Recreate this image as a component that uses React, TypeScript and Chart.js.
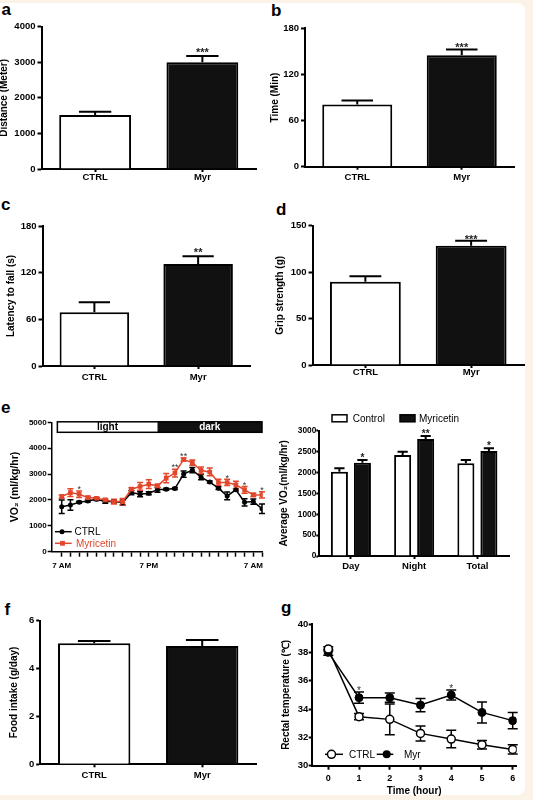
import React, { useEffect, useRef } from "react";
import { Chart, registerables } from "chart.js";

Chart.register(...registerables);

const FONT = "'Liberation Sans', Arial, Helvetica, sans-serif";
Chart.defaults.font.family = FONT;
Chart.defaults.color = "#000";

// ---------------- data ----------------
const BAR_GROUPS = ["CTRL", "Myr"];

const DISTANCE_MEAN = [1520, 3000];
const DISTANCE_SEM = [90, 175];
const DISTANCE_SIG = ["", "***"];
const DISTANCE_TICKS = [0, 1000, 2000, 3000, 4000];

const TIME_MEAN = [81, 145];
const TIME_SEM = [5, 7.5];
const TIME_SIG = ["", "***"];
const TIME_TICKS = [0, 60, 120, 180];

const LATENCY_MEAN = [69, 131];
const LATENCY_SEM = [13, 10];
const LATENCY_SIG = ["", "**"];
const LATENCY_TICKS = [0, 60, 120, 180];

const GRIP_MEAN = [89.7, 128.4];
const GRIP_SEM = [6, 5.5];
const GRIP_SIG = ["", "***"];
const GRIP_TICKS = [0, 50, 100, 150];

const FOOD_MEAN = [5.06, 4.94];
const FOOD_SEM = [0.09, 0.25];
const FOOD_SIG = ["", ""];
const FOOD_TICKS = [0, 2, 4, 6];

const VO2_SLOTS = [0, 1, 2, 3, 4, 5, 6, 7, 8, 9, 10, 11, 12, 13, 14, 15, 16, 17, 18, 19, 20, 21, 22, 23];
const VO2_TICK_LABELS = ["7 AM", "", "", "", "", "", "", "", "", "", "7 PM", "", "", "", "", "", "", "", "", "", "", "", "7 AM", ""];
const VO2_CTRL = [1740, 1805, 1910, 1960, 2025, 1935, 1935, 1900, 2285, 2220, 2260, 2390, 2415, 2440, 3000, 3150, 2880, 2690, 2455, 2155, 2390, 1910, 1935, 1660];
const VO2_CTRL_SEM = [260, 200, 40, 40, 50, 60, 60, 100, 80, 100, 60, 90, 40, 40, 120, 100, 100, 40, 50, 150, 40, 140, 100, 180];
const VO2_MYR = [2130, 2285, 2220, 2090, 2065, 2000, 1935, 1935, 2415, 2520, 2610, 2545, 2845, 3040, 3560, 3445, 3140, 3080, 2675, 2675, 2585, 2390, 2195, 2195];
const VO2_MYR_SEM = [60, 150, 130, 50, 40, 50, 90, 120, 60, 150, 170, 60, 180, 150, 60, 100, 130, 150, 120, 120, 140, 130, 60, 120];
const VO2_SIG = ["", "", "*", "", "", "", "", "", "", "", "", "", "", "**", "**", "", "", "", "", "*", "", "*", "", "*"];
const VO2_TICKS = [0, 1000, 2000, 3000, 4000, 5000];
const PHASES = ["light", "dark"];
const PHASE_BOUNDS = [-0.5, 11, 23];

const AVG_GROUPS = ["Day", "Night", "Total"];
const AVG_CTRL = [2019, 2418, 2219];
const AVG_CTRL_SEM = [80, 80, 79];
const AVG_MYR = [2235, 2801, 2514];
const AVG_MYR_SEM = [63, 72, 64];
const AVG_SIG = ["*", "**", "*"];
const AVG_TICKS = [0, 500, 1000, 1500, 2000, 2500, 3000];

const TEMP_HOURS = [0, 1, 2, 3, 4, 5, 6];
const TEMP_CTRL = [38.24, 33.46, 33.27, 32.28, 31.88, 31.48, 31.15];
const TEMP_CTRL_SEM = [0.15, 0.22, 1.08, 0.53, 0.62, 0.3, 0.33];
const TEMP_MYR = [38.0, 34.8, 34.8, 34.28, 34.99, 33.76, 33.18];
const TEMP_MYR_SEM = [0.2, 0.4, 0.33, 0.47, 0.35, 0.74, 0.58];
const TEMP_SIG = ["", "*", "", "", "*", "", ""];
const TEMP_TICKS = [30, 32, 34, 36, 38, 40];

const RED = "#e2472c";
const INK = "#111";

// ---------------- plugins ----------------
function valOf(raw: any) {
  return typeof raw === "number" ? raw : raw.y;
}

const errorBarPlugin = {
  id: "errorBars",
  beforeDatasetsDraw(chart: any) {
    const { ctx } = chart;
    chart.data.datasets.forEach((ds: any, di: number) => {
      if (!ds.errors) return;
      const meta = chart.getDatasetMeta(di);
      const yScale = chart.scales[meta.yAxisID];
      ctx.save();
      ctx.strokeStyle = ds.errorColor || "#000";
      ctx.lineWidth = ds.errorLineWidth || 2;
      meta.data.forEach((el: any, i: number) => {
        const v = valOf(ds.data[i]);
        const e = ds.errors[i];
        const x = el.x;
        const yHi = yScale.getPixelForValue(v + e);
        const yLo = yScale.getPixelForValue(ds.errorBoth ? v - e : v);
        const half = ds.errorCap != null ? ds.errorCap / 2 : (el.width * ds.errorCapRatio) / 2;
        ctx.beginPath();
        ctx.moveTo(x, yLo);
        ctx.lineTo(x, yHi);
        ctx.moveTo(x - half, yHi);
        ctx.lineTo(x + half, yHi);
        if (ds.errorBoth) {
          ctx.moveTo(x - half, yLo);
          ctx.lineTo(x + half, yLo);
        }
        ctx.stroke();
      });
      ctx.restore();
    });
  },
};

const sigPlugin = {
  id: "sigMarks",
  afterDatasetsDraw(chart: any) {
    const { ctx } = chart;
    chart.data.datasets.forEach((ds: any, di: number) => {
      if (!ds.sigLabels) return;
      const meta = chart.getDatasetMeta(di);
      const yScale = chart.scales[meta.yAxisID];
      ctx.save();
      ctx.font = `${ds.sigWeight || "bold"} ${ds.sigSize || 11}px ${FONT}`;
      ctx.fillStyle = ds.sigColor || "#222";
      ctx.textAlign = "center";
      ctx.textBaseline = "alphabetic";
      ds.sigLabels.forEach((t: string, i: number) => {
        if (!t) return;
        const v = valOf(ds.data[i]);
        const e = ds.errors ? ds.errors[i] : 0;
        const y = yScale.getPixelForValue(v + e) - (ds.sigGap || 0);
        ctx.fillText(t, meta.data[i].x, y);
      });
      ctx.restore();
    });
  },
};

function phasePlugin(names: string[], bounds: number[], fills: string[], inks: string[]) {
  return {
    id: "phaseBar",
    afterDraw(chart: any) {
      const { ctx, chartArea, scales } = chart;
      const top = chartArea.top - 0.5;
      const h = 10.5;
      ctx.save();
      const xs = bounds.map((b) => scales.x.getPixelForValue(b));
      names.forEach((n, i) => {
        ctx.fillStyle = fills[i];
        ctx.fillRect(xs[i], top, xs[i + 1] - xs[i], h);
      });
      ctx.strokeStyle = "#000";
      ctx.lineWidth = 1.5;
      ctx.strokeRect(xs[0], top, xs[xs.length - 1] - xs[0], h);
      ctx.font = `bold 10px ${FONT}`;
      ctx.textAlign = "center";
      ctx.textBaseline = "middle";
      names.forEach((n, i) => {
        ctx.fillStyle = inks[i];
        ctx.fillText(n, (xs[i] + xs[i + 1]) / 2, top + h / 2 + 0.5);
      });
      ctx.restore();
    },
  };
}

function legendPlugin(items: any[], origin: number[]) {
  return {
    id: "customLegend",
    afterDraw(chart: any) {
      const { ctx } = chart;
      const [ox, oy] = origin;
      ctx.save();
      items.forEach((it) => {
        const y = it.y - oy;
        if (it.kind === "line") {
          ctx.strokeStyle = it.color;
          ctx.lineWidth = it.lineWidth;
          ctx.beginPath();
          ctx.moveTo(it.x1 - ox, y);
          ctx.lineTo(it.x2 - ox, y);
          ctx.stroke();
          const mx = it.mx - ox;
          ctx.beginPath();
          if (it.shape === "rect") {
            ctx.rect(mx - it.r, y - it.r, it.r * 2, it.r * 2);
          } else {
            ctx.arc(mx, y, it.r, 0, Math.PI * 2);
          }
          ctx.fillStyle = it.fill;
          ctx.fill();
          if (it.stroke) {
            ctx.strokeStyle = it.stroke;
            ctx.lineWidth = 1.5;
            ctx.stroke();
          }
        } else {
          ctx.fillStyle = it.fill;
          ctx.fillRect(it.x1 - ox, it.y1 - oy, it.x2 - it.x1, it.y2 - it.y1);
          ctx.strokeStyle = "#000";
          ctx.lineWidth = 1.5;
          ctx.strokeRect(it.x1 - ox, it.y1 - oy, it.x2 - it.x1, it.y2 - it.y1);
        }
        ctx.fillStyle = it.textColor || "#000";
        ctx.font = `${it.fontSize || 10}px ${FONT}`;
        ctx.textAlign = "left";
        ctx.textBaseline = "middle";
        ctx.fillText(it.text, it.tx - ox, y + 0.5);
      });
      ctx.restore();
    },
  };
}

// ---------------- config builders ----------------
function yAxis(p: any) {
  const [bl] = p.box;
  const [al] = p.area;
  const ts = p.yTitleSize || 10;
  const aw = p.axisW || 2;
  return {
    type: "linear",
    min: p.yTicks[0],
    max: p.yTicks[p.yTicks.length - 1],
    afterBuildTicks: (s: any) => {
      s.ticks = p.yTicks.map((v: number) => ({ value: v }));
    },
    afterFit: (s: any) => {
      s.width = al - bl;
    },
    border: { display: true, color: "#000", width: aw },
    grid: { drawOnChartArea: false, drawTicks: true, tickLength: p.yTickLen ?? 4, tickWidth: aw, tickColor: "#000" },
    ticks: {
      color: "#000",
      font: { size: p.yTickSize || 9.5, weight: "bold" },
      padding: p.yTickPad ?? 2,
      autoSkip: false,
      callback: (v: any) => String(v),
    },
    title: {
      display: true,
      text: p.yTitle,
      color: "#000",
      font: { size: ts, weight: "bold" },
      padding: { top: p.titleX - bl - ts * 0.6, bottom: 0 },
    },
  };
}

function xCategory(p: any) {
  const [, bt, , bh] = p.box;
  const ab = p.area[3];
  const aw = p.axisW || 2;
  return {
    type: "category",
    offset: true,
    afterFit: (s: any) => {
      s.height = bt + bh - ab;
    },
    border: { display: true, color: "#000", width: aw },
    grid: { offset: false, drawOnChartArea: false, drawTicks: true, tickLength: p.xTickLen ?? 3, tickWidth: aw, tickColor: "#000" },
    ticks: { color: "#000", font: { size: p.xTickSize || 9.5, weight: "bold" }, padding: p.xTickPad ?? 1, autoSkip: false, maxRotation: 0 },
  };
}

function xLinear(p: any) {
  const [, bt, , bh] = p.box;
  const ab = p.area[3];
  const aw = p.axisW || 2;
  const sc: any = {
    type: "linear",
    min: p.xMin,
    max: p.xMax,
    afterBuildTicks: (s: any) => {
      s.ticks = p.xTicks.map((v: number) => ({ value: v }));
    },
    afterFit: (s: any) => {
      s.height = bt + bh - ab;
    },
    border: { display: true, color: "#000", width: aw },
    grid: { drawOnChartArea: false, drawTicks: true, tickLength: p.xTickLen ?? 4, tickWidth: aw, tickColor: "#000" },
    ticks: {
      color: "#000",
      font: { size: p.xTickSize || 9.5, weight: "bold" },
      padding: p.xTickPad ?? 2,
      autoSkip: false,
      maxRotation: 0,
      callback: p.xLabel,
    },
  };
  if (p.xTitle) {
    sc.title = { display: true, text: p.xTitle, color: "#000", font: { size: 10, weight: "bold" }, padding: { top: 0, bottom: p.xTitlePad ?? 2 } };
  }
  return sc;
}

function makeConfig(type: string, p: any) {
  const [bl, bt, bw] = p.box;
  const [, at, ar] = p.area;
  return {
    type,
    data: { labels: p.labels, datasets: p.datasets },
    options: {
      responsive: false,
      animation: false,
      events: [],
      layout: { padding: { left: 0, top: at - bt, right: bl + bw - ar, bottom: 0 } },
      plugins: { legend: { display: false }, tooltip: { enabled: false } },
      scales: { x: type === "bar" ? xCategory(p) : xLinear(p), y: yAxis(p) },
    },
    plugins: [errorBarPlugin, sigPlugin, ...(p.extra || [])],
  };
}

function simpleBar(p: any, mean: number[], sem: number[], sig: string[]) {
  return makeConfig("bar", {
    ...p,
    labels: BAR_GROUPS,
    datasets: [
      {
        data: mean,
        errors: sem,
        errorCapRatio: 0.45,
        errorLineWidth: 2,
        sigLabels: sig,
        sigSize: 11,
        sigGap: p.sigGap,
        backgroundColor: ["#fff", INK],
        borderColor: "#000",
        borderWidth: 2,
        barPercentage: 0.67,
        categoryPercentage: 1,
      },
    ],
  });
}

// ---------------- panels ----------------
const PANEL_A = { box: [-4, 16, 266, 176], area: [41.5, 26.7, 256, 169], titleX: 4.6, yTicks: DISTANCE_TICKS, yTitle: "Distance (Meter)", xTickLen: 3, xTickPad: 0, sigGap: -0.4 };
const PANEL_B = { box: [266, 16, 267, 176], area: [305, 28.3, 514, 166.7], titleX: 274.8, yTicks: TIME_TICKS, yTitle: "Time (Min)", xTickLen: 3, xTickPad: 1.8, sigGap: -1.1 };
const PANEL_C = { box: [-4, 212, 266, 176], area: [42.5, 226, 250, 366], titleX: 11.5, yTicks: LATENCY_TICKS, yTitle: "Latency to fall (s)", xTickLen: 3, xTickPad: 3, sigGap: 0.3 };
const PANEL_D = { box: [266, 212, 267, 176], area: [312.5, 225.7, 524, 365], titleX: 279.8, yTicks: GRIP_TICKS, yTitle: "Grip strength (g)", xTickLen: 3, xTickPad: -1.5, sigGap: -2.4 };
const PANEL_F = { box: [-4, 610, 266, 182], area: [40.2, 620.7, 256.2, 764.3], titleX: 14.5, yTicks: FOOD_TICKS, yTitle: "Food intake (g/day)", xTickLen: 3, xTickPad: 2.5, sigGap: 0 };

const PANEL_E1 = { box: [-4, 410, 272, 167], area: [51.7, 422.3, 262, 551.7] };
const PANEL_E2 = { box: [268, 405, 265, 177], area: [319.3, 430.7, 509, 556] };
const PANEL_G = { box: [268, 612, 265, 188], area: [311.7, 624, 516.7, 765.7] };

function configE1() {
  const p = PANEL_E1;
  return makeConfig("line", {
    ...p,
    titleX: 15,
    yTitle: "VO\u2082 (ml/kg/hr)",
    yTitleSize: 10.5,
    yTicks: VO2_TICKS,
    yTickSize: 8,
    yTickLen: 4,
    yTickPad: 1,
    axisW: 1.5,
    xMin: -1.15,
    xMax: 23,
    xTicks: VO2_SLOTS,
    xTickSize: 8,
    xTickLen: 5,
    xTickPad: 4,
    xLabel: (_v: any, i: number) => VO2_TICK_LABELS[i],
    datasets: [
      {
        label: "CTRL",
        data: VO2_CTRL.map((y, i) => ({ x: VO2_SLOTS[i], y })),
        errors: VO2_CTRL_SEM,
        errorBoth: true,
        errorCap: 6,
        errorLineWidth: 1.5,
        errorColor: "#000",
        borderColor: "#000",
        borderWidth: 1.5,
        pointRadius: 2.5,
        pointBackgroundColor: "#000",
        pointBorderWidth: 0,
        tension: 0,
        order: 1,
      },
      {
        label: "Myricetin",
        data: VO2_MYR.map((y, i) => ({ x: VO2_SLOTS[i], y })),
        errors: VO2_MYR_SEM,
        errorBoth: true,
        errorCap: 6,
        errorLineWidth: 1.5,
        errorColor: RED,
        borderColor: RED,
        borderWidth: 1.5,
        pointStyle: "rect",
        pointRadius: 3.3,
        pointBackgroundColor: RED,
        pointBorderWidth: 0,
        tension: 0,
        order: 0,
        sigLabels: VO2_SIG,
        sigSize: 9,
        sigWeight: "normal",
        sigGap: -1.2,
        sigColor: "#333",
      },
    ],
    extra: [
      phasePlugin(PHASES, PHASE_BOUNDS, ["#fff", INK], ["#000", "#fff"]),
      legendPlugin(
        [
          { kind: "line", x1: 55, x2: 71.7, y: 531.7, mx: 62, r: 2.5, fill: "#000", color: "#000", lineWidth: 1.5, text: "CTRL", tx: 74.5 },
          { kind: "line", x1: 55, x2: 71.7, y: 543.3, mx: 62.5, r: 2.4, shape: "rect", fill: RED, color: RED, lineWidth: 1.5, text: "Myricetin", tx: 76, textColor: RED },
        ],
        [p.box[0], p.box[1]]
      ),
    ],
  });
}

function configE2() {
  const p = PANEL_E2;
  return makeConfig("bar", {
    ...p,
    labels: AVG_GROUPS,
    titleX: 284,
    yTitle: "Average VO\u2082(ml/kg/hr)",
    yTicks: AVG_TICKS,
    yTickSize: 8.3,
    yTickLen: 3,
    yTickPad: 0,
    xTickLen: 3,
    xTickPad: 1.5,
    datasets: [
      {
        label: "Control",
        data: AVG_CTRL,
        errors: AVG_CTRL_SEM,
        errorCapRatio: 0.6,
        errorLineWidth: 2,
        backgroundColor: "#fff",
        borderColor: "#000",
        borderWidth: 2,
        barPercentage: 0.74,
        categoryPercentage: 0.728,
      },
      {
        label: "Myricetin",
        data: AVG_MYR,
        errors: AVG_MYR_SEM,
        errorCapRatio: 0.6,
        errorLineWidth: 2,
        backgroundColor: INK,
        borderColor: "#000",
        borderWidth: 2,
        barPercentage: 0.74,
        categoryPercentage: 0.728,
        sigLabels: AVG_SIG,
        sigSize: 10,
        sigGap: -0.8,
      },
    ],
    extra: [
      legendPlugin(
        [
          { kind: "box", x1: 332, x2: 347, y1: 414.8, y2: 421.8, y: 418.3, fill: "#fff", text: "Control", tx: 352.7 },
          { kind: "box", x1: 400, x2: 415, y1: 414.8, y2: 421.8, y: 418.3, fill: INK, text: "Myricetin", tx: 419 },
        ],
        [p.box[0], p.box[1]]
      ),
    ],
  });
}

function configG() {
  const p = PANEL_G;
  return makeConfig("line", {
    ...p,
    titleX: 286.5,
    yTitle: "Rectal temperature (\u2103)",
    yTicks: TEMP_TICKS,
    yTickLen: 3,
    yTickPad: 0.5,
    xMin: -0.54,
    xMax: 6.13,
    xTicks: TEMP_HOURS,
    xTickSize: 9,
    xTickLen: 4,
    xTickPad: 3,
    xLabel: (v: any) => String(v),
    xTitle: "Time (hour)",
    xTitlePad: 2.3,
    datasets: [
      {
        label: "CTRL",
        data: TEMP_CTRL.map((y, i) => ({ x: TEMP_HOURS[i], y })),
        errors: TEMP_CTRL_SEM,
        errorBoth: true,
        errorCap: 10,
        errorLineWidth: 1.5,
        borderColor: "#000",
        borderWidth: 1.5,
        pointRadius: 4,
        pointBackgroundColor: "#fff",
        pointBorderColor: "#000",
        pointBorderWidth: 1.5,
        tension: 0,
        order: 0,
      },
      {
        label: "Myr",
        data: TEMP_MYR.map((y, i) => ({ x: TEMP_HOURS[i], y })),
        errors: TEMP_MYR_SEM,
        errorBoth: true,
        errorCap: 10,
        errorLineWidth: 1.5,
        borderColor: "#000",
        borderWidth: 1.5,
        pointRadius: 4,
        pointBackgroundColor: "#000",
        pointBorderColor: "#000",
        pointBorderWidth: 1,
        tension: 0,
        order: 1,
        sigLabels: TEMP_SIG,
        sigSize: 10,
        sigWeight: "normal",
        sigGap: -1.6,
        sigColor: "#333",
      },
    ],
    extra: [
      legendPlugin(
        [
          { kind: "line", x1: 325, x2: 343, y: 754.3, mx: 331.5, r: 4, fill: "#fff", stroke: "#000", color: "#000", lineWidth: 1.5, text: "CTRL", tx: 349 },
          { kind: "line", x1: 376.7, x2: 393.3, y: 754.3, mx: 386.7, r: 4, fill: "#000", color: "#000", lineWidth: 1.5, text: "Myr", tx: 404 },
        ],
        [p.box[0], p.box[1]]
      ),
    ],
  });
}

// ---------------- components ----------------
function ChartCanvas({ box, make }: { box: number[]; make: () => any }) {
  const ref = useRef<HTMLCanvasElement | null>(null);
  useEffect(() => {
    if (!ref.current) return;
    const chart = new Chart(ref.current, make());
    return () => chart.destroy();
  }, []);
  const [l, t, w, h] = box;
  return (
    <canvas
      ref={ref}
      width={w}
      height={h}
      style={{ position: "absolute", left: l, top: t, width: w, height: h, display: "block" }}
    />
  );
}

const LETTERS: [string, number, number][] = [
  ["a", 1.5, 0.6],
  ["b", 271, 2.3],
  ["c", 1, 195.6],
  ["d", 276, 200.6],
  ["e", 1, 398.6],
  ["f", 4.5, 600.6],
  ["g", 281, 599.4],
];

export default function App() {
  return (
    <div
      style={{
        position: "absolute",
        left: 0,
        top: 0,
        width: 533,
        height: 800,
        background: "#fcf3e8",
        overflow: "hidden",
        fontFamily: FONT,
      }}
    >
      <div style={{ position: "absolute", left: -8, top: 3, width: 533, height: 792, background: "#fff", borderRadius: 8 }} />
      {LETTERS.map(([ch, x, y]) => (
        <div
          key={ch}
          style={{ position: "absolute", left: x, top: y, fontSize: 17, lineHeight: "17px", fontWeight: "bold", color: "#000" }}
        >
          {ch}
        </div>
      ))}
      <ChartCanvas box={PANEL_A.box} make={() => simpleBar(PANEL_A, DISTANCE_MEAN, DISTANCE_SEM, DISTANCE_SIG)} />
      <ChartCanvas box={PANEL_B.box} make={() => simpleBar(PANEL_B, TIME_MEAN, TIME_SEM, TIME_SIG)} />
      <ChartCanvas box={PANEL_C.box} make={() => simpleBar(PANEL_C, LATENCY_MEAN, LATENCY_SEM, LATENCY_SIG)} />
      <ChartCanvas box={PANEL_D.box} make={() => simpleBar(PANEL_D, GRIP_MEAN, GRIP_SEM, GRIP_SIG)} />
      <ChartCanvas box={PANEL_E1.box} make={configE1} />
      <ChartCanvas box={PANEL_E2.box} make={configE2} />
      <ChartCanvas box={PANEL_F.box} make={() => simpleBar(PANEL_F, FOOD_MEAN, FOOD_SEM, FOOD_SIG)} />
      <ChartCanvas box={PANEL_G.box} make={configG} />
    </div>
  );
}
